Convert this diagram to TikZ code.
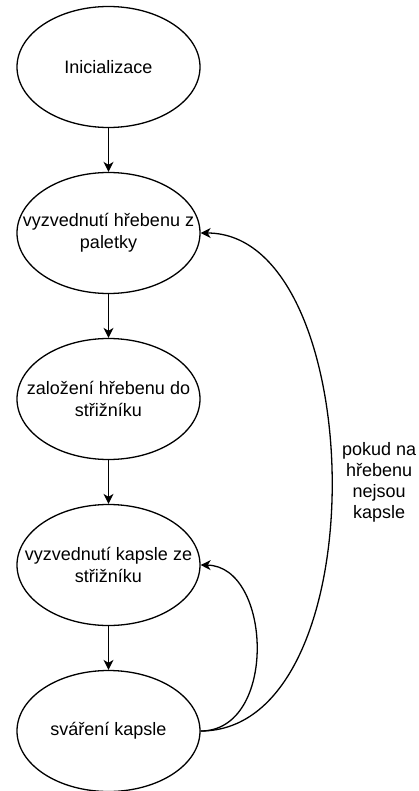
\documentclass[tikz,border=0pt]{standalone}
\usepackage{fontspec}
\setmainfont{Liberation Sans}
\usetikzlibrary{shapes.geometric,arrows.meta}

\tikzset{
    stav/.style={draw, ellipse, line width=1.3pt, minimum width=183pt, minimum height=121pt,
        inner xsep=-35pt, align=center,
        font=\fontsize{18}{21.6}\selectfont},
    sipka/.style={line width=1.3pt, -{Stealth[length=10pt, width=10pt, inset=3pt]}},
    popis/.style={align=center, inner sep=0pt, font=\fontsize{18}{21}\selectfont}
}

\begin{document}
\begin{tikzpicture}[x=1pt, y=-1pt]
        \useasboundingbox (0,0) rectangle (419,791);

        \node[stav] (init) at (108.5,67) {Inicializace};
        \node[stav] (hreben) at (108.5,233) {vyzvednutí hřebenu z\\paletky};
        \node[stav] (strizna) at (108.5,399) {založení hřebenu do\\střižníku};
        \node[stav] (kapsle) at (108.5,565) {vyzvednutí kapsle ze\\střižníku};
        \node[stav] (svar) at (108.5,731) {sváření kapsle};

        \draw[sipka] (init) -- (hreben);
        \draw[sipka] (hreben) -- (strizna);
        \draw[sipka] (strizna) -- (kapsle);
        \draw[sipka] (kapsle) -- (svar);

        % smycky zpet
        \draw[sipka] (svar.east) .. controls (278,731) and (272,566) .. (kapsle.east);
        \draw[sipka] (svar.east) .. controls (380,731) and (370,233) .. (hreben.east)
            node[popis, pos=0.5, anchor=west, xshift=10pt] (pokud) {pokud na\\hřebenu\\nejsou\\kapsle};
    \end{tikzpicture}
\end{document}
